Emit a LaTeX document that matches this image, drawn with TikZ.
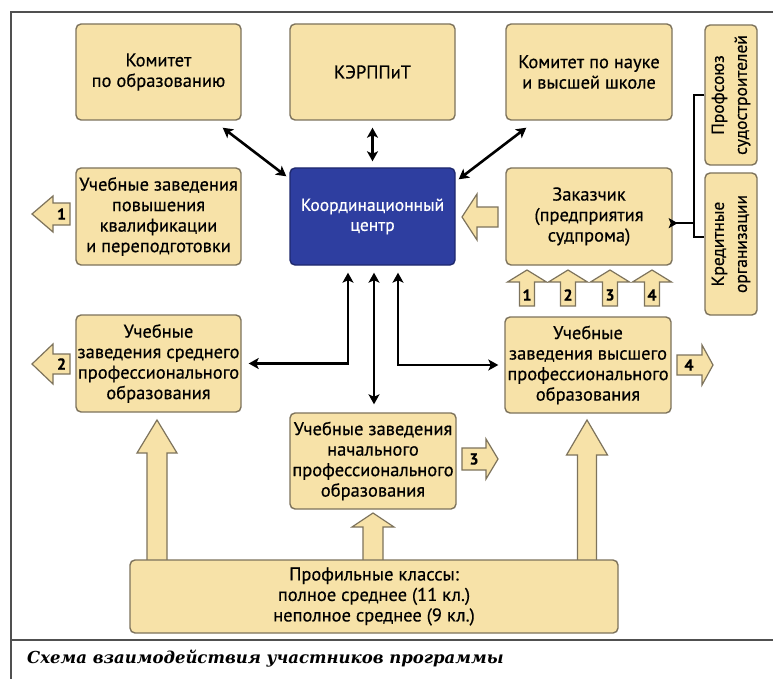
\documentclass[tikz,border=0pt]{standalone}
\usepackage{fontspec}
\setmainfont{PT Sans}[FakeBold=0.5]
\newfontfamily\capfont{DejaVu Serif}
\usetikzlibrary{arrows.meta,calc}
\definecolor{boxfill}{RGB}{247,226,168}
\definecolor{boxline}{RGB}{125,115,92}
\definecolor{bluefill}{RGB}{46,62,160}
\definecolor{blueline}{RGB}{30,40,110}
\definecolor{frameline}{RGB}{80,80,80}
\newcommand{\blockarr}[7]{%
  \draw[barr, shift={(#1,#2)}, rotate=#3] (0,{-#5}) -- ({#4-#7},{-#5}) -- ({#4-#7},{-#6}) -- (#4,0)
    -- ({#4-#7},{#6}) -- ({#4-#7},{#5}) -- (0,{#5}) -- cycle;}
\begin{document}
\begin{tikzpicture}[x=1pt,y=-1pt,
  box/.style={draw=boxline, fill=boxfill, line width=1.4pt, rounded corners=5pt,
    align=center, inner sep=0pt, font=\fontsize{18.5}{20.5}\selectfont},
  bluebox/.style={box, draw=blueline, fill=bluefill, text=white, font=\fontsize{17.5}{20}\selectfont},
  txt/.style={align=center, inner sep=0pt, font=\fontsize{17.5}{23}\selectfont},
  num/.style={inner sep=0pt, font=\bfseries\fontsize{16}{16}\selectfont},
  barr/.style={draw=boxline, fill=boxfill, line width=1.2pt, line join=miter},
  dbl/.style={line width=2.6pt, {Stealth[length=10pt,width=11pt,inset=2.5pt]}-{Stealth[length=10pt,width=11pt,inset=2.5pt]}},
  thin/.style={line width=2pt},
  thinarr/.style={line width=2pt, -{Stealth[length=9pt,width=10pt,inset=2pt]}},
  frame/.style={draw=frameline, line width=2pt}]
\useasboundingbox (0,0) rectangle (773,679);
\fill[white] (0,0) rectangle (773,679);
% frame
\draw[frame] (11,679) -- (11,12) -- (773,12);
\draw[frame] (11,640) -- (773,640);

% block arrows (drawn first so the boxes overlap their tails)
\blockarr{70}{214}{180}{38}{11}{18}{21}
\blockarr{70}{364}{180}{38}{10}{20}{21}
\blockarr{462}{459}{0}{36}{11}{20}{12}
\blockarr{677}{365}{0}{36}{10}{20}{11}
\blockarr{498}{217}{180}{36}{10}{23}{15}
\blockarr{527}{306}{90}{36}{7.5}{19.5}{12}
\blockarr{568}{306}{90}{36}{7.5}{19.5}{12}
\blockarr{610}{306}{90}{36}{7.5}{19.5}{12}
\blockarr{652}{306}{90}{36}{7.5}{19.5}{12}
\blockarr{157}{561}{90}{141}{10}{20}{33}
\blockarr{373}{561}{90}{48}{10}{21}{14}
\blockarr{587}{561}{90}{141}{9.5}{20.5}{35}

% numbers in arrows
\node[num] (n1) at (61.5,214) {1};
\node[num] (n2) at (61.5,364) {2};
\node[num] (n3) at (474,459) {3};
\node[num] (n4) at (689,365) {4};
\node[num] (u1) at (527,295) {1};
\node[num] (u2) at (568,295) {2};
\node[num] (u3) at (610,295) {3};
\node[num] (u4) at (652,295) {4};

% boxes
\node[box, minimum width=165pt, minimum height=96pt] (kobr) at (158.5,72) {Комитет\\по образованию};
\node[box, minimum width=165pt, minimum height=96pt] (kerp) at (372.5,72) {КЭРППиТ};
\node[box, minimum width=166pt, minimum height=96pt] (knauk) at (589,72) {Комитет по науке\\и высшей школе};
\node[box, minimum width=52pt, minimum height=140pt] (prof) at (731,95) {};
\node[txt, rotate=90] (proft) at (prof.center) {Профсоюз\\судостроителей};
\node[box, minimum width=52pt, minimum height=142pt] (kred) at (731,244) {};
\node[txt, rotate=90] (kredt) at (kred.center) {Кредитные\\организации};
\node[box, minimum width=165pt, minimum height=97pt] (pov) at (158.5,216.5) {Учебные заведения\\повышения\\квалификации\\и переподготовки};
\node[bluebox, minimum width=165pt, minimum height=97pt] (coord) at (372.5,216.5) {Координационный\\центр};
\node[box, minimum width=166pt, minimum height=97pt] (zak) at (589,216.5) {Заказчик\\(предприятия\\судпрома)};
\node[box, minimum width=165pt, minimum height=97pt] (sred) at (158.5,363.5) {Учебные\\заведения среднего\\профессионального\\образования};
\node[box, minimum width=166pt, minimum height=96pt] (vyssh) at (588,365) {Учебные\\заведения высшего\\профессионального\\образования};
\node[box, minimum width=166pt, minimum height=96pt] (nach) at (373,461) {Учебные заведения\\начального\\профессионального\\образования};
\node[box, minimum width=488pt, minimum height=73pt] (profkl) at (374,596.5) {Профильные классы:\\полное среднее (11 кл.)\\неполное среднее (9 кл.)};

% connectors
\draw[dbl] ($(kobr.south east)+(-19,7)$) -- ($(coord.north west)+(-3,9)$);
\draw[dbl] ($(kerp.south)+(0,7)$) -- ($(coord.north)+(0,-6)$);
\draw[dbl] ($(knauk.south west)+(21,7)$) -- ($(coord.north east)+(3,12)$);
\draw[dbl] ($(coord.south)+(-24.5,7)$) |- ($(sred.east)+(7,0)$);
\draw[dbl] ($(coord.south)+(1.5,7)$) -- ($(nach.north)+(1,-8)$);
\draw[dbl] ($(coord.south)+(25.5,7)$) |- ($(vyssh.west)+(-6,0)$);
\draw[thin] (prof.west) -- ++(-10,0) coordinate (bustop) |- ($(kred.west)+(0,-7)$);
\coordinate (busmid) at ($(bustop)!0.86!(bustop |- kred.west)$);
\draw[thinarr] (busmid) -- (busmid -| zak.east) -- ++(5,0);

% caption
\node[anchor=base west, inner sep=0pt, font=\capfont\bfseries\itshape\fontsize{16.5}{20}\selectfont] (cap) at (27,663) {Схема взаимодействия участников программы};
\end{tikzpicture}
\end{document}
